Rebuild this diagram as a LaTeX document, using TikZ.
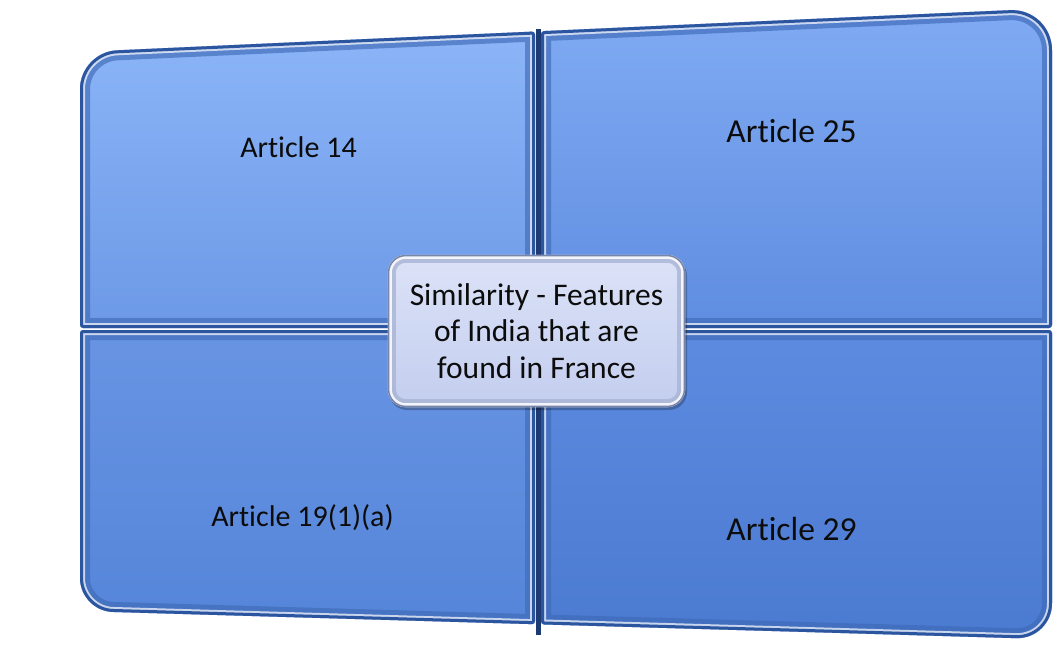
\documentclass[tikz,border=0pt]{standalone}
\usepackage{fontspec}
\setmainfont{Carlito}[Ligatures={NoCommon,NoContextual}]
\usetikzlibrary{calc}
\definecolor{edge}{HTML}{2C55A0}
\definecolor{bevel}{HTML}{3F6AB8}
\definecolor{divider}{HTML}{1D3A72}
\definecolor{txt}{HTML}{0C0C0C}
\definecolor{tlA}{HTML}{8CB5F8}\definecolor{tlB}{HTML}{6C99E6}
\definecolor{trA}{HTML}{80AAF3}\definecolor{trB}{HTML}{5F8DE0}
\definecolor{blA}{HTML}{6894E3}\definecolor{blB}{HTML}{5585D9}
\definecolor{brA}{HTML}{5D8BE0}\definecolor{brB}{HTML}{4B7AD1}
\definecolor{cA}{HTML}{DCE3F8}\definecolor{cB}{HTML}{C3CDEE}
\definecolor{cedge}{HTML}{7884A8}
\definecolor{cbevel}{HTML}{A9B4D4}
\newcommand{\myquad}[3]{%
  \path[top color=#2,bottom color=#3] #1;
  \begin{scope}
    \clip #1;
    \draw[line width=20pt, color=bevel, opacity=.65] #1;
    \draw[line width=10pt, color=white, opacity=.7] #1;
    \draw[line width=6pt, color=edge] #1;
  \end{scope}}
\tikzset{
  lbl/.style={text=txt, inner sep=0pt, anchor=base},
  centerbox/.style={rounded corners=18pt, minimum width=297pt, minimum height=152pt,
    top color=cA, bottom color=cB, align=center, inner sep=0pt, text=txt,
    font=\fontsize{31.5}{36.5}\selectfont},
}
\begin{document}
\begin{tikzpicture}[x=1pt,y=-1pt]
\useasboundingbox (0,0) rectangle (1057,648);
% top-left quadrant
\myquad{(80,200) [rounded corners=37pt] -- (80,52) -- (300,42) [rounded corners=3pt] -- (535,31.5) -- (535,328) -- (80,328) -- cycle}{tlA}{tlB}
% top-right quadrant
\myquad{(800,19.5) [rounded corners=42pt] -- (1052,8.3) -- (1052,200) [rounded corners=3pt] -- (1052,328) -- (541,328) -- (541,31.2) -- cycle}{trA}{trB}
% bottom-left quadrant
\myquad{(80,450) [rounded corners=33pt] -- (80,611) -- (300,617.4) [rounded corners=3pt] -- (535,624.2) -- (535,330) -- (80,330) -- cycle}{blA}{blB}
% bottom-right quadrant
\myquad{(800,631.8) [rounded corners=36pt] -- (1052,639.2) -- (1052,450) [rounded corners=3pt] -- (1052,330) -- (541,330) -- (541,624.4) -- cycle}{brA}{brB}
% vertical divider line
\coordinate (vt) at (538,29);
\coordinate (vb) at (538,635);
\draw[line width=5pt, color=divider] (vt) -- (vb);
% labels
\node[lbl, font=\fontsize{30}{36}\selectfont] (a14) at (298.5,157) {Article 14};
\node[lbl, font=\fontsize{33.5}{40}\selectfont] (a25) at (791.5,142) {Article 25};
\node[lbl, font=\fontsize{30}{36}\selectfont] (a19) at (302.5,526) {Article 19(1)(a)};
\node[lbl, font=\fontsize{33.5}{40}\selectfont] (a29) at (791.5,540) {Article 29};
% center box
\fill[black, opacity=.25, rounded corners=18pt] (389,258) rectangle (687,410);
\node[centerbox] (c) at (536.5,331) {Similarity - Features\\of India that are\\found in France};
\begin{scope}
  \clip[rounded corners=18pt] (c.south west) rectangle (c.north east);
  \draw[line width=16pt, color=cbevel, opacity=.8, rounded corners=18pt] (c.south west) rectangle (c.north east);
  \draw[line width=8pt, color=white, opacity=.85, rounded corners=18pt] (c.south west) rectangle (c.north east);
  \draw[line width=3pt, color=cedge, rounded corners=18pt] (c.south west) rectangle (c.north east);
\end{scope}
\end{tikzpicture}
\end{document}
